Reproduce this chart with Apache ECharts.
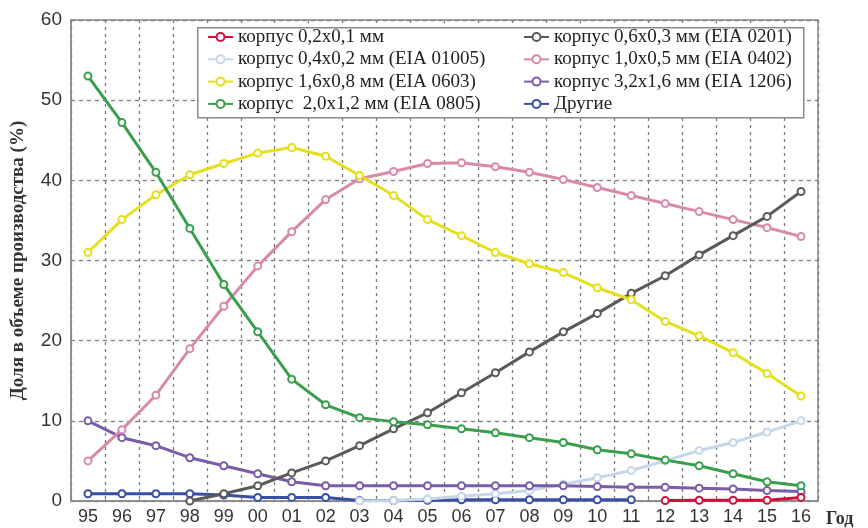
<!DOCTYPE html>
<html>
<head>
<meta charset="utf-8">
<script src="https://cdn.jsdelivr.net/npm/echarts@6/dist/echarts.min.js"></script>
<style>
html,body{margin:0;padding:0;background:#fff;}
#chart{width:868px;height:528px;}
</style>
</head>
<body>
<div id="chart"></div>
<script>
var years = ['95','96','97','98','99','00','01','02','03','04','05','06','07','08','09','10','11','12','13','14','15','16'];

var s0201 = [null,null,null,null,null,null,null,null,null,null,null,null,null,null,null,null,null,0.05,0.1,0.1,0.1,0.45];
var s0402sm = [null,null,null,null,null,null,null,null,0,0.05,0.25,0.6,0.9,1.3,2.1,2.9,3.8,5.0,6.3,7.3,8.6,10.0];
var sGray = [null,null,null,0,0.9,1.9,3.5,5.0,6.9,9.0,11.0,13.5,16.0,18.6,21.1,23.4,25.9,28.1,30.7,33.1,35.5,38.6];
var sPink = [5.0,8.9,13.2,19.0,24.3,29.3,33.6,37.6,40.2,41.1,42.1,42.2,41.7,41.0,40.1,39.1,38.1,37.1,36.1,35.1,34.1,33.0];
var sYellow = [31.0,35.1,38.2,40.7,42.1,43.4,44.1,43.0,40.6,38.1,35.1,33.1,31.0,29.6,28.5,26.6,25.1,22.4,20.6,18.5,15.9,13.1];
var sPurple = [10.0,7.9,6.9,5.4,4.4,3.4,2.4,1.9,1.9,1.9,1.9,1.9,1.9,1.9,1.9,1.8,1.7,1.7,1.6,1.5,1.3,1.2];
var sGreen = [53.0,47.2,41.0,34.0,27.0,21.1,15.2,12.0,10.4,9.9,9.5,9.0,8.5,7.9,7.3,6.4,5.9,5.1,4.4,3.4,2.4,1.9];
var sOther = [0.9,0.9,0.9,0.9,0.75,0.45,0.45,0.45,0.05,0.05,0.1,0.15,0.15,0.15,0.15,0.15,0.15,null,null,null,null,null];

var names = {
  red: 'корпус 0,2x0,1 мм',
  lblue: 'корпус 0,4x0,2 мм (EIA 01005)',
  yellow: 'корпус 1,6x0,8 мм (EIA 0603)',
  green: 'корпус  2,0x1,2 мм (EIA 0805)',
  gray: 'корпус 0,6x0,3 мм (EIA 0201)',
  pink: 'корпус 1,0x0,5 мм (EIA 0402)',
  purple: 'корпус 3,2x1,6 мм (EIA 1206)',
  blue: 'Другие'
};
var colors = {
  red: '#d0103a', lblue: '#c6d7ea', yellow: '#e6df1e', green: '#3a9f4c',
  gray: '#5a5a5a', pink: '#d98aaa', purple: '#7a5ca8', blue: '#3a4fa3'
};

function mk(key, data) {
  return {
    name: names[key], type: 'line', data: data,
    symbol: 'emptyCircle', symbolSize: 7, connectNulls: false,
    lineStyle: {width: 3, color: colors[key]},
    itemStyle: {color: colors[key], borderWidth: 2, borderColor: colors[key]},
    emphasis: {disabled: true}
  };
}

var legendText = {fontFamily: 'Liberation Serif', fontSize: 19, color: '#222', lineHeight: 20};

var option = {
  animation: false,
  backgroundColor: '#fff',
  grid: {left: 71, right: 50, top: 20, bottom: 26, show: true, borderColor: '#8a8a8a', borderWidth: 1.5},
  graphic: [{
    type: 'rect', left: 197, top: 27, z: 50,
    shape: {width: 606, height: 90},
    style: {fill: '#fff', stroke: '#8a8a8a', lineWidth: 1.5}
  }],
  legend: [{
    orient: 'vertical', left: 207, top: 27, padding: 0, itemGap: 2.3, z: 60,
    itemWidth: 25, itemHeight: 10, textStyle: legendText,
    data: [names.red, names.lblue, names.yellow, names.green]
  }, {
    orient: 'vertical', left: 523, top: 27, padding: 0, itemGap: 2.3, z: 60,
    itemWidth: 25, itemHeight: 10, textStyle: legendText,
    data: [names.gray, names.pink, names.purple, names.blue]
  }],
  xAxis: {
    type: 'category', data: years, boundaryGap: true,
    name: 'Год', nameLocation: 'end', nameGap: 8,
    nameTextStyle: {fontFamily: 'Liberation Serif', fontWeight: 'bold', fontSize: 18, color: '#333', verticalAlign: 'top', padding: [9, 0, 0, 0]},
    axisLine: {show: true, lineStyle: {color: '#8a8a8a', width: 1.5}},
    axisTick: {show: true, inside: true, length: 3, lineStyle: {color: '#8a8a8a'}},
    axisLabel: {fontFamily: 'Liberation Sans', fontSize: 18, color: '#333', margin: 7, interval: 0},
    splitLine: {show: true, interval: 0, lineStyle: {color: '#7a7a7a', type: [3, 4], width: 1.3}}
  },
  yAxis: {
    type: 'value', min: 0, max: 60, interval: 10,
    name: 'Доля в объеме производства (%)', nameLocation: 'middle', nameGap: 43, nameRotate: 90,
    nameTextStyle: {fontFamily: 'Liberation Serif', fontWeight: 'bold', fontSize: 19, color: '#333'},
    axisLine: {show: true, lineStyle: {color: '#8a8a8a', width: 1.5}},
    axisTick: {show: true, inside: true, length: 3, lineStyle: {color: '#8a8a8a'}},
    axisLabel: {fontFamily: 'Liberation Sans', fontSize: 19, color: '#333', margin: 9},
    splitLine: {show: true, lineStyle: {color: '#7a7a7a', type: [4, 4], width: 1.3}}
  },
  series: [
    mk('blue', sOther),
    mk('lblue', s0402sm),
    mk('purple', sPurple),
    mk('pink', sPink),
    mk('gray', sGray),
    mk('yellow', sYellow),
    mk('green', sGreen),
    mk('red', s0201)
  ]
};

var chart = echarts.init(document.getElementById('chart'), null, {renderer: 'canvas'});
chart.setOption(option);
</script>
</body>
</html>
